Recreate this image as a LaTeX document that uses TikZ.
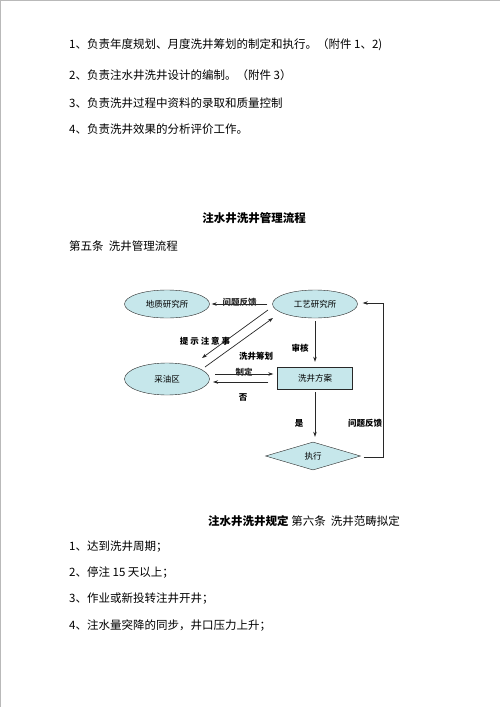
\documentclass[tikz,border=0pt]{standalone}
\usepackage{fontspec}
\setmainfont{Noto Sans CJK SC}
\usepackage{tikz}
\usetikzlibrary{
  arrows.meta,
  positioning,
  shapes.geometric
}
\definecolor{flowfill}{RGB}{198,231,235}
\definecolor{flowline}{RGB}{40,40,40}
\tikzset{
  bodytext/.style={anchor=west, inner sep=0pt,
    font=\fontsize{11.5}{13}\selectfont},
  placebox/.style={draw=flowline, ellipse, fill=flowfill, inner sep=0pt,
    minimum width=85pt, minimum height=28pt,
    font=\fontsize{8.5}{10}\selectfont},
  planbox/.style={draw=flowline, fill=flowfill, inner sep=0pt,
    minimum width=75pt, minimum height=22pt,
    font=\fontsize{8.5}{10}\selectfont},
  decidebox/.style={draw=flowline, diamond, fill=flowfill, inner sep=0pt,
    minimum width=95pt, minimum height=28pt,
    font=\fontsize{8.5}{10}\selectfont},
  edgelabel/.style={inner sep=0pt, font=\fontsize{8.5}{10}\selectfont\bfseries},
  arr/.style={-{Stealth[length=5pt,width=3.5pt]}, line width=0.7pt, flowline},
}

\begin{document}
\begin{tikzpicture}[x=1pt, y=-1pt]
  \useasboundingbox (0,0) rectangle (500,707);
  \draw[gray!55, line width=1pt] (0.5,707) -- (0.5,0.5) -- (500,0.5);

  % Duties
  \node[bodytext] (duty1) at (69,45) {1、负责年度规划、月度洗井筹划的制定和执行。（附件 1、2)};
  \node[bodytext] (duty2) at (69,75) {2、负责注水井洗井设计的编制。（附件 3）};
  \node[bodytext] (duty3) at (69,103) {3、负责洗井过程中资料的录取和质量控制};
  \node[bodytext] (duty4) at (69,129) {4、负责洗井效果的分析评价工作。};

  \node[bodytext, anchor=center, font=\fontsize{11.5}{13}\selectfont\bfseries]
    (title) at (254,218) {注水井洗井管理流程};
  \node[bodytext] (art5) at (69,246) {第五条\ \ 洗井管理流程};

  % Flow chart
  \node[placebox] (geo) at (167,304) {地质研究所};
  \node[placebox] (craft) at (315,304) {工艺研究所};
  \node[placebox, minimum height=32pt] (oil) at (167,379) {采油区};
  \node[planbox] (plan) at (315,378) {洗井方案};
  \node[decidebox] (exec) at (313,456) {\raisebox{-6pt}{执行}};

  \draw[arr] ([xshift=-5pt]craft.west) -- ([xshift=2pt]geo.east)
    node[edgelabel, midway, yshift=2pt] {问题反馈};
  \draw[arr] ([shift={(-47,6)}]craft.center) -- ([shift={(35,-21)}]oil.center);
  \draw[arr] ([shift={(38,-12)}]oil.center) -- ([shift={(-42,14)}]craft.center);
  \draw[arr] ([shift={(48,-5)}]oil.center) -- ([shift={(-4,-4)}]plan.west)
    node[edgelabel, midway, yshift=2pt] {制定};
  \draw[arr] ([shift={(-9,4)}]plan.west) -- ([shift={(46,3)}]oil.center);
  \draw[arr] ([shift={(0,3)}]craft.south) -- ([shift={(0,-5)}]plan.north);
  \draw[arr] ([shift={(0,3)}]plan.south) -- ([shift={(0,-5)}]plan.south |- exec.north);
  \draw[arr] ([shift={(3,1)}]exec.east) -- ++(20,0) |- ([shift={(5,-1)}]craft.east);

  \node[edgelabel] (notice) at (205,341) {提\ 示\ 注\ 意\ 事};
  \node[edgelabel] (design) at (256,356) {洗井筹划};
  \node[edgelabel] (reject) at (243,397) {否};
  \node[edgelabel] (review) at (300,348) {审核};
  \node[edgelabel] (accept) at (299,423) {是};
  \node[edgelabel] (feedback) at (365,423) {问题反馈};

  % Scope
  \node[bodytext] (art6) at (208,521) {\textbf{注水井洗井规定} 第六条\ \ 洗井范畴拟定};
  \node[bodytext] (case1) at (69,547) {1、达到洗井周期；};
  \node[bodytext] (case2) at (69,573) {2、停注 15 天以上；};
  \node[bodytext] (case3) at (69,599) {3、作业或新投转注井开井；};
  \node[bodytext] (case4) at (69,626) {4、注水量突降的同步，井口压力上升；};
\end{tikzpicture}
\end{document}
